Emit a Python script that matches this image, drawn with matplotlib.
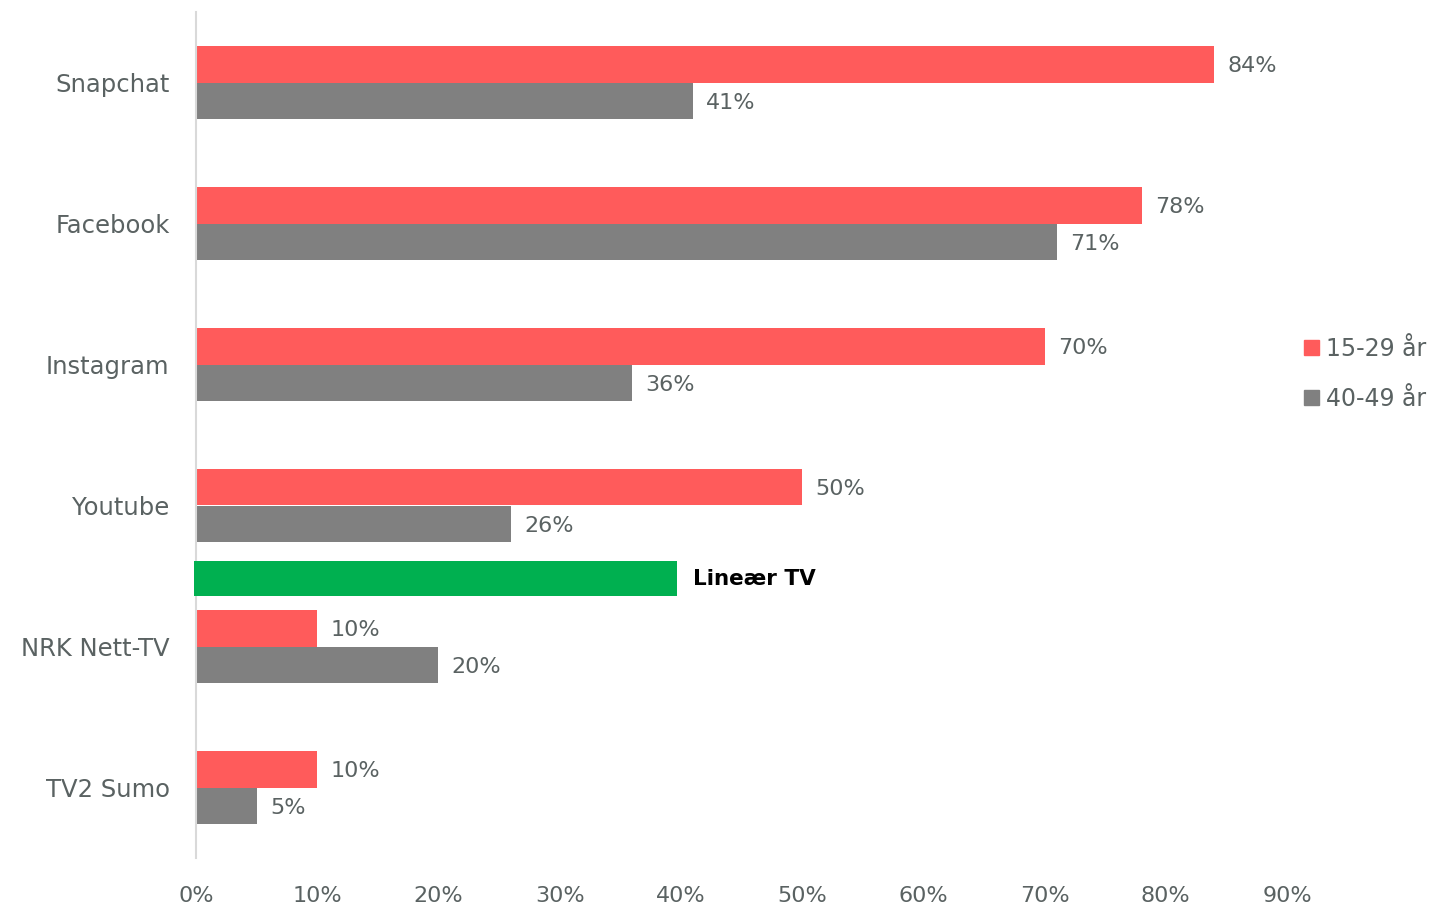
import matplotlib
matplotlib.use("Agg")
import matplotlib.pyplot as plt
from matplotlib.patches import Patch
import numpy as np

categories = ["Snapchat", "Facebook", "Instagram", "Youtube", "NRK Nett-TV", "TV2 Sumo"]
young = [84, 78, 70, 50, 10, 10]
older = [41, 71, 36, 26, 20, 5]
series_names = ["15-29 år", "40-49 år"]
linear_tv_label = "Lineær TV"
linear_tv_value = 39.8
xticks = [0, 10, 20, 30, 40, 50, 60, 70, 80, 90]

RED = "#FF5B5B"
GREY = "#808080"
GREEN = "#00B050"
TXT = "#5A6262"

plt.rcParams["font.family"] = ["DejaVu Sans"]

fig = plt.figure(figsize=(14.34, 9.08), dpi=100)
ax = fig.add_axes([196/1434, 1-858/908, (1287-196)/1434, (858-12)/908])

y = np.arange(len(categories))
h = 0.262
ax.barh(y - h/2, young, height=h, color=RED, label=series_names[0])
ax.barh(y + h/2, older, height=h, color=GREY, label=series_names[1])
ax.barh([3.52], [linear_tv_value], left=-0.15, height=0.25, color=GREEN,
        clip_on=False, zorder=3)

fs = 16
for yi, v in zip(y, young):
    ax.text(v + 1.1, yi - h/2 + 0.012, f"{v}%", va="center", ha="left", fontsize=fs, color=TXT)
for yi, v in zip(y, older):
    ax.text(v + 1.1, yi + h/2 + 0.012, f"{v}%", va="center", ha="left", fontsize=fs, color=TXT)
ax.text(linear_tv_value + 1.2, 3.52, linear_tv_label, va="center", ha="left",
        fontsize=15.5, color="black", fontweight="bold")

ax.set_xlim(0, 90)
ax.set_ylim(5.5, -0.5)
ax.set_yticks(y)
ax.set_yticklabels(categories, fontsize=17.5, color=TXT)
ax.set_xticks(xticks)
ax.set_xticklabels([f"{t}%" for t in xticks], fontsize=fs, color=TXT)
ax.tick_params(axis="both", length=0)
ax.tick_params(axis="y", pad=19)
ax.tick_params(axis="x", pad=20)
for s in ["top", "right", "bottom"]:
    ax.spines[s].set_visible(False)
ax.spines["left"].set_color("#D9D9D9")
ax.spines["left"].set_linewidth(1.5)

handles = [Patch(color=RED), Patch(color=GREY)]
fig.legend(handles, series_names, loc="upper left", bbox_to_anchor=(1304/1434, 1-337/908),
           frameon=False, fontsize=17, labelcolor=TXT, handlelength=0.62, handleheight=0.62,
           handletextpad=0.3, labelspacing=1.1, borderaxespad=0, borderpad=0)

fig.savefig("out.png", dpi=100)
